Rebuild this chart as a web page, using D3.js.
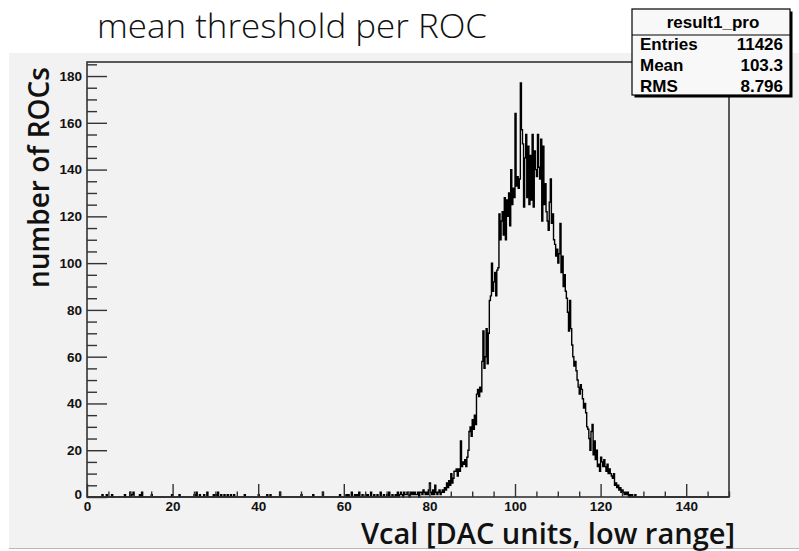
<!DOCTYPE html>
<html>
<head>
<meta charset="utf-8">
<script src="https://cdn.jsdelivr.net/npm/d3@7"></script>
<style>
  html, body { margin: 0; padding: 0; background: #ffffff; }
  svg { display: block; }
</style>
</head>
<body>
<svg id="chart" width="799" height="551"></svg>
<script>
// Histogram binning: 600 bins of 0.25 DAC units over [0, 150]
const binWidth = 0.25;
const xRange = [0, 150];
const yMax = 186;

// Tick values
const xMajorTicks = [0, 20, 40, 60, 80, 100, 120, 140];
const yMajorTicks = [0, 20, 40, 60, 80, 100, 120, 140, 160, 180];

// Sparse entries in the low tail: [bin lower edge, count]
const lowTail = [
  [3.5, 1], [4.5, 1], [5.75, 1], [8.75, 1], [10, 2], [10.5, 1], [10.75, 2],
  [12.25, 1], [12.75, 2], [15, 1], [19.75, 1], [21.5, 1], [25, 1], [25.5, 2],
  [26.25, 1], [27.25, 1], [28, 2], [29.5, 1], [30, 1], [30.5, 2], [31.25, 1],
  [32, 1], [32.75, 1], [33.5, 1], [34.25, 1], [36.75, 1], [40, 1], [42, 1],
  [42.75, 1], [45, 2], [50, 1], [52.75, 1], [55, 2], [59, 1], [60.5, 1],
  [61, 1], [61.75, 2], [62.5, 1], [63, 1], [63.5, 2], [64.25, 1], [65, 1],
  [65.5, 1], [66.25, 2], [67, 1], [67.75, 1], [68.5, 2], [69.25, 1], [70, 1],
  [70.5, 2], [71.25, 1], [72, 1], [72.5, 2]
];

// Contiguous bin counts starting at coreStart (4 bins per DAC unit)
const coreStart = 73;
const coreCounts = [
  1, 2, 1, 0,      // 73
  2, 1, 1, 2,      // 74
  1, 0, 2, 1,      // 75
  2, 1, 2, 1,      // 76
  1, 2, 0, 2,      // 77
  2, 1, 3, 2,      // 78
  1, 2, 1, 3,      // 79
  6, 2, 1, 3,      // 80
  1, 5, 2, 1,      // 81
  2, 3, 1, 2,      // 82
  3, 2, 4, 3,      // 83
  6, 4, 7, 5,      // 84
  10, 6, 8, 11,    // 85
  11, 12, 9, 12,   // 86
  11, 24, 13, 15,  // 87
  14, 16, 13, 17,  // 88
  20, 28, 30, 26,  // 89
  33, 29, 35, 31,  // 90
  44, 46, 43, 47,  // 91
  45, 58, 71, 55,  // 92
  60, 72, 57, 70,  // 93
  84, 86, 100, 88, // 94
  92, 96, 86, 97,  // 95
  98, 121, 110, 118,   // 96
  122, 112, 128, 110,  // 97
  127, 120, 130, 116,  // 98
  140, 125, 132, 128,  // 99
  164, 133, 137, 132,  // 100
  136, 177, 157, 151,  // 101
  124, 145, 155, 128,  // 102
  150, 125, 146, 127,  // 103
  155, 124, 148, 140,  // 104
  137, 155, 141, 136,  // 105
  153, 118, 150, 125,  // 106
  134, 122, 118, 114,  // 107
  126, 136, 117, 121,  // 108
  110, 108, 103, 106,  // 109
  100, 104, 117, 96,   // 110
  103, 90, 95, 88,     // 111
  85, 79, 71, 84,      // 112
  72, 65, 60, 56,      // 113
  58, 54, 50, 47,      // 114
  44, 48, 46, 42,      // 115
  38, 40, 36, 30,      // 116
  29, 25, 20, 28,      // 117
  31, 18, 24, 16,      // 118
  20, 13, 14, 11,      // 119
  17, 15, 13, 16,      // 120
  13, 11, 14, 10,      // 121
  12, 10, 9, 8,        // 122
  10, 5, 6, 4,         // 123
  5, 3, 4, 2,          // 124
  3, 2, 1, 2,          // 125
  1, 2, 0, 1,          // 126
  0, 1, 0, 0,          // 127
  1                    // 128
];

// Statistics box
const statsTitle = "result1_pro";
const statsLabels = ["Entries", "Mean", "RMS"];
const statsValues = ["11426", "103.3", "8.796"];

const titleText = "mean threshold per ROC";
const xAxisTitle = "Vcal [DAC units, low range]";
const yAxisTitle = "number of ROCs";

// ---- assemble the full bin array ----
const nBins = Math.round((xRange[1] - xRange[0]) / binWidth);
const counts = new Array(nBins).fill(0);
lowTail.forEach(([edge, c]) => { counts[Math.round(edge / binWidth)] = c; });
coreCounts.forEach((c, i) => { counts[Math.round(coreStart / binWidth) + i] = c; });

// ---- layout ----
const svg = d3.select("#chart");
const frame = { left: 87, right: 729, top: 62, bottom: 497 };
const x = d3.scaleLinear().domain(xRange).range([frame.left, frame.right]);
const y = d3.scaleLinear().domain([0, yMax]).range([frame.bottom, frame.top]);

// canvas pad
svg.append("rect").attr("x", 0).attr("y", 0).attr("width", 799).attr("height", 551).attr("fill", "#ffffff");
svg.append("rect").attr("x", 9).attr("y", 53).attr("width", 790).attr("height", 495).attr("fill", "#f2f2f2");
svg.append("line").attr("x1", 9).attr("x2", 799).attr("y1", 548.5).attr("y2", 548.5)
  .attr("stroke", "#b8b8b8").attr("stroke-width", 1);

// title
svg.append("text")
  .attr("x", 97).attr("y", 38)
  .attr("font-family", "'Open Sans', 'Noto Sans', sans-serif")
  .attr("font-weight", 300)
  .attr("font-size", 33)
  .attr("textLength", 390)
  .attr("lengthAdjust", "spacingAndGlyphs")
  .attr("fill", "#111")
  .text(titleText);

// histogram outline (step line)
const pts = [[0, 0]];
counts.forEach((c, i) => {
  const x0 = xRange[0] + i * binWidth;
  pts.push([x0, c], [x0 + binWidth, c]);
});
pts.push([xRange[1], 0]);
const stepLine = d3.line().x(d => x(d[0])).y(d => y(d[1]));
svg.append("path")
  .attr("d", stepLine(pts))
  .attr("fill", "none")
  .attr("stroke", "#000")
  .attr("stroke-width", 1.4)
  .attr("stroke-linejoin", "miter");

// axes
const tickFont = "'Liberation Sans', Arial, sans-serif";
const xMinor = d3.range(0, 151, 5).filter(v => v % 20 !== 0);
const yMinor = d3.range(0, 186, 5).filter(v => v % 20 !== 0);

const gx = svg.append("g").attr("transform", `translate(0,${frame.bottom})`)
  .call(d3.axisBottom(x).tickValues(xMajorTicks).tickSizeInner(-13).tickSizeOuter(0).tickPadding(4).tickFormat(d3.format("d")));
gx.append("g").call(d3.axisBottom(x).tickValues(xMinor).tickSizeInner(-5.5).tickSizeOuter(0).tickFormat(""));

const gy = svg.append("g").attr("transform", `translate(${frame.left},0)`)
  .call(d3.axisLeft(y).tickValues(yMajorTicks).tickSizeInner(-20).tickSizeOuter(0).tickPadding(5).tickFormat(d3.format("d")));
gy.append("g").call(d3.axisLeft(y).tickValues(yMinor).tickSizeInner(-10).tickSizeOuter(0).tickFormat(""));

svg.selectAll(".domain").remove();
svg.selectAll(".tick line").attr("stroke", "#333").attr("stroke-width", 1.4);
svg.selectAll(".tick text")
  .attr("font-family", tickFont)
  .attr("font-weight", "bold")
  .attr("font-size", 13.5)
  .attr("fill", "#111");
// the y-axis "0" label sits slightly above the axis corner
gy.selectAll(".tick text").filter(d => d === 0).attr("dy", "0.1em");

// frame
svg.append("rect")
  .attr("x", frame.left).attr("y", frame.top)
  .attr("width", frame.right - frame.left).attr("height", frame.bottom - frame.top)
  .attr("fill", "none").attr("stroke", "#333").attr("stroke-width", 1.6);

// axis titles
svg.append("text")
  .attr("x", 735).attr("y", 544)
  .attr("text-anchor", "end")
  .attr("font-family", "'Open Sans', 'Noto Sans', sans-serif")
  .attr("font-weight", 600)
  .attr("font-size", 28.5)
  .attr("textLength", 374)
  .attr("lengthAdjust", "spacingAndGlyphs")
  .attr("fill", "#111")
  .text(xAxisTitle);

svg.append("text")
  .attr("transform", "translate(49,67) rotate(-90)")
  .attr("text-anchor", "end")
  .attr("font-family", "'Open Sans', 'Noto Sans', sans-serif")
  .attr("font-weight", 600)
  .attr("font-size", 28)
  .attr("fill", "#111")
  .text(yAxisTitle);

// statistics box
const box = { x: 632, y: 9, w: 158, h: 86 };
const sg = svg.append("g");
sg.append("rect").attr("x", box.x + 2.5).attr("y", box.y + 2.5).attr("width", box.w).attr("height", box.h).attr("fill", "#000");
sg.append("rect").attr("x", box.x).attr("y", box.y).attr("width", box.w).attr("height", box.h)
  .attr("fill", "#f8f8f8").attr("stroke", "#000").attr("stroke-width", 1.2);
sg.append("line").attr("x1", box.x).attr("x2", box.x + box.w).attr("y1", box.y + 26).attr("y2", box.y + 26)
  .attr("stroke", "#000").attr("stroke-width", 1.2);
sg.append("text")
  .attr("x", box.x + box.w / 2 + 2).attr("y", box.y + 19)
  .attr("text-anchor", "middle")
  .attr("font-family", tickFont).attr("font-weight", "bold").attr("font-size", 17).attr("fill", "#000")
  .text(statsTitle);
statsLabels.forEach((lab, i) => {
  const yy = box.y + 41 + i * 21;
  sg.append("text").attr("x", box.x + 8).attr("y", yy)
    .attr("font-family", tickFont).attr("font-weight", "bold").attr("font-size", 17).attr("fill", "#000")
    .text(lab);
  sg.append("text").attr("x", box.x + box.w - 7).attr("y", yy)
    .attr("text-anchor", "end")
    .attr("font-family", tickFont).attr("font-weight", "bold").attr("font-size", 17).attr("fill", "#000")
    .text(statsValues[i]);
});
</script>
</body>
</html>
